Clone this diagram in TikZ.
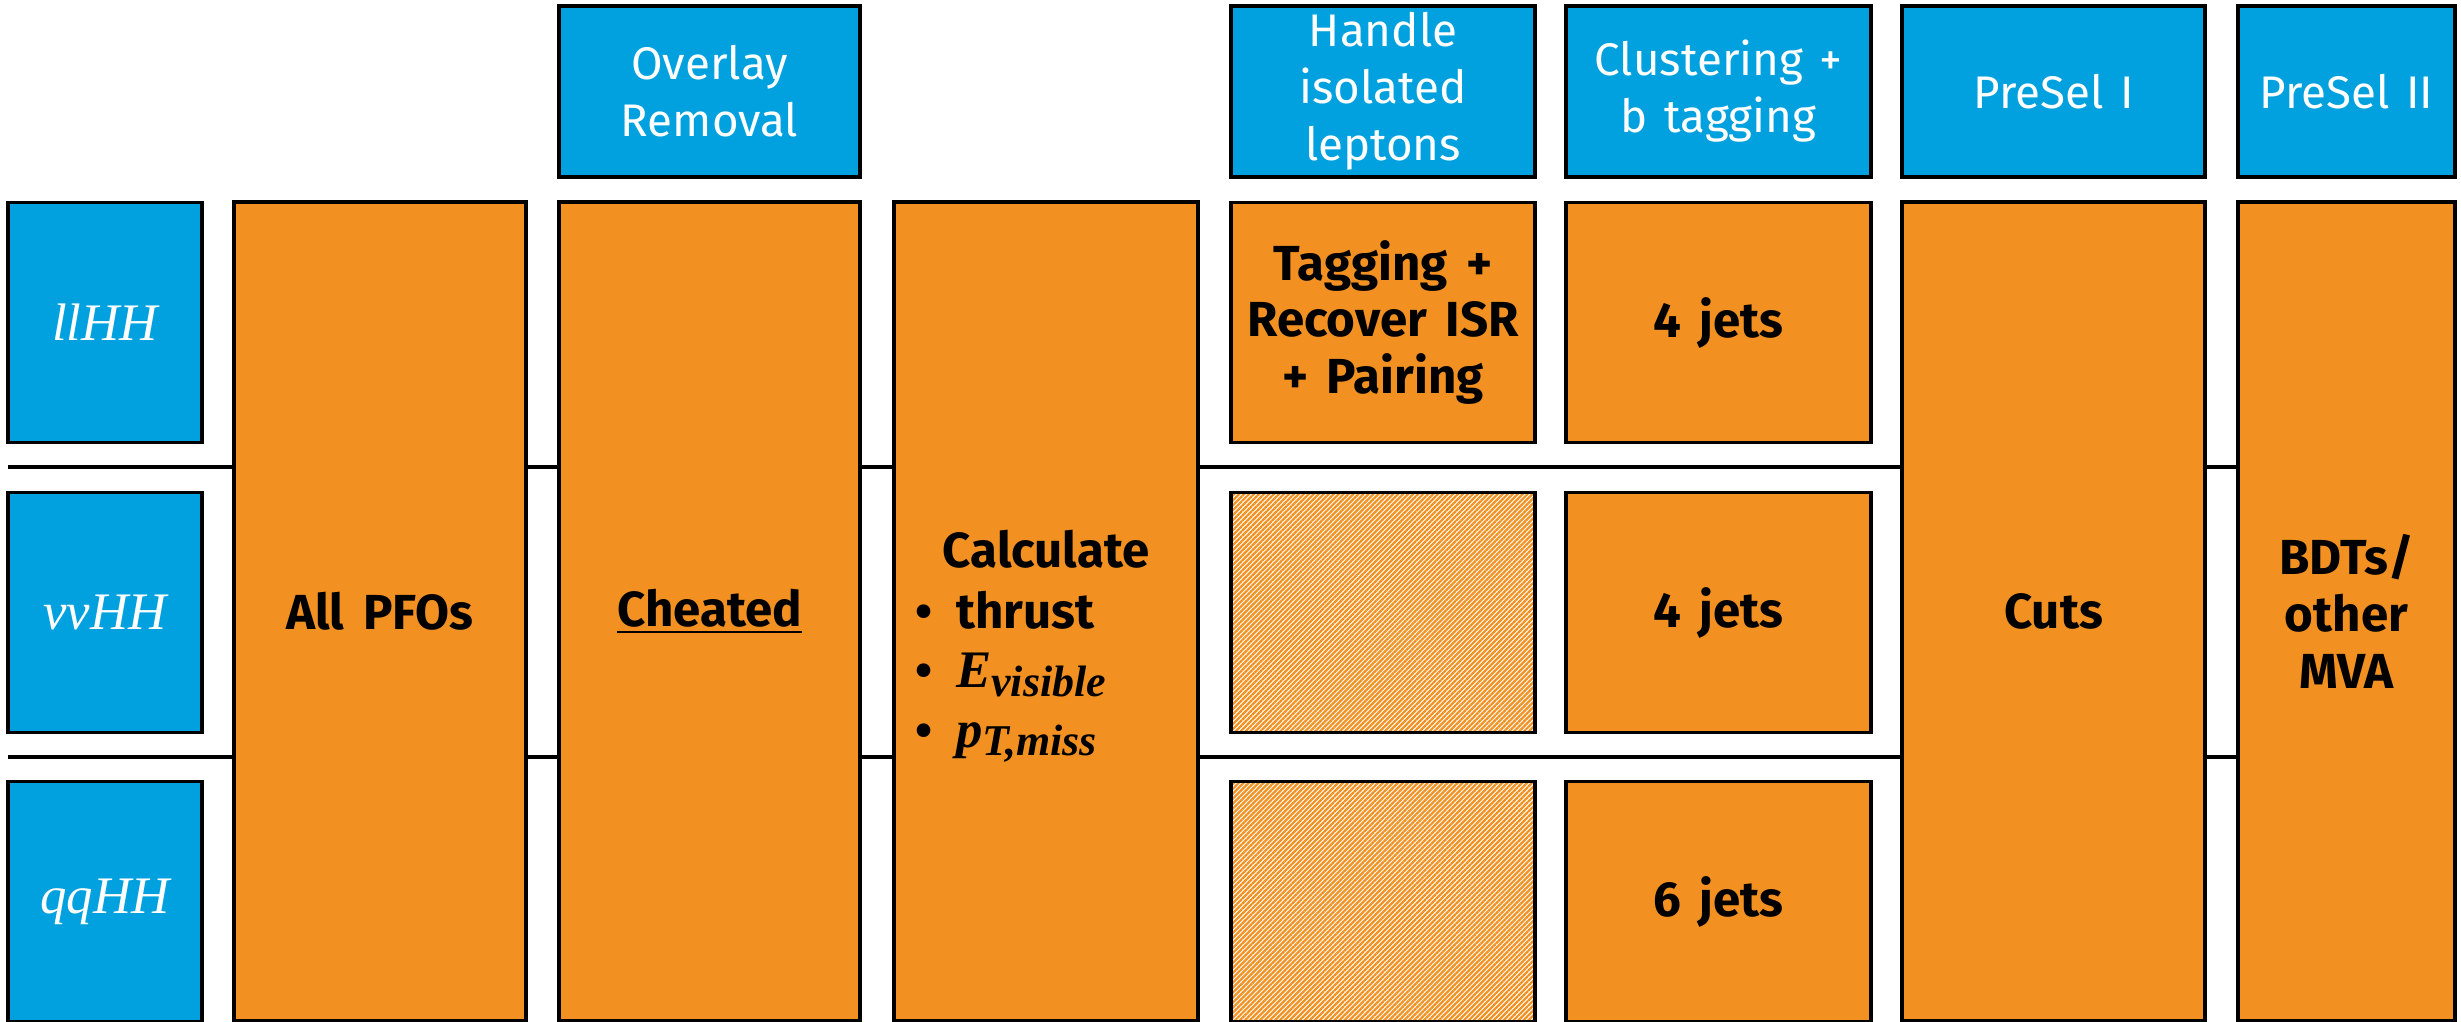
\documentclass[tikz,border=0pt]{standalone}
\usepackage{fontspec}
\setmainfont{Fira Sans}
\newfontfamily\cambria{Liberation Serif}
\usetikzlibrary{patterns.meta}

\definecolor{stepblue}{RGB}{0,161,222}
\definecolor{steporange}{RGB}{242,145,33}

% bold italic maths-like symbol with a lowered subscript
\newcommand{\bsym}[2]{{\cambria\bfseries\itshape\fontsize{15}{16}\selectfont #1\raisebox{-2.3pt}{\fontsize{12.5}{12}\selectfont #2}}}
\newcommand{\widespace}[1]{\spaceskip=#1\relax}

\def\colw{3.04cm}
\def\rowh{2.40cm}

\begin{document}
\begin{tikzpicture}[x=0.01cm,y=-0.01cm,line width=1.05pt]
    \tikzstyle{box}=[rectangle,draw=black,inner sep=0pt,align=center]
    \tikzstyle{header}=[box,fill=stepblue,text=white,minimum height=1.71cm,
        font=\fontsize{13}{16.2}\selectfont\widespace{0.36em}]
    \tikzstyle{channel}=[box,fill=stepblue,text=white,minimum width=1.94cm,
        minimum height=\rowh,font=\cambria\itshape\fontsize{15}{16}\selectfont]
    \tikzstyle{stage}=[box,fill=steporange,
        font=\bfseries\fontsize{14}{16.2}\selectfont\widespace{0.38em}]
    \tikzstyle{tall stage}=[stage,minimum height=8.19cm]
    \tikzstyle{cell}=[stage,minimum width=\colw,minimum height=\rowh]
    \tikzstyle{skipped}=[box,minimum width=\colw,minimum height=\rowh,
        pattern={Lines[angle=45,distance=1pt,line width=0.65pt]},pattern color=steporange]

    \useasboundingbox (0,0) rectangle (2461,1022);

    % Separators between the channels, drawn first so the boxes sit on top
    \coordinate (sepA-l) at (8,467);
    \coordinate (sepA-r) at (2455,467);
    \coordinate (sepB-l) at (8,757);
    \coordinate (sepB-r) at (2455,757);
    \draw (sepA-l) -- (sepA-r);
    \draw (sepB-l) -- (sepB-r);

    % Channels
    \foreach \name / \y / \lab in {ll/322.5/llHH, vv/612.5/vvHH, qq/901.5/qqHH}
        \node[channel] (\name) at (105,\y) {\lab};

    % Step headers
    \node[header,minimum width=3.01cm] (h-overlay) at (709.5,91.5) {Overlay\\Removal};
    \node[header,minimum width=\colw] (h-iso) at (1383,91.5) {Handle\\isolated\\leptons};
    \node[header,minimum width=3.05cm] (h-clust) at (1718.5,91.5) {Clustering +\\b tagging};
    \node[header,minimum width=3.03cm] (h-presel1) at (2053.5,91.5) {PreSel I};
    \node[header,minimum width=2.17cm] (h-presel2) at (2346.5,91.5) {PreSel II};

    % Steps common to all channels
    \node[tall stage,minimum width=2.92cm] (pfo) at (380,611.5) {All PFOs};
    \node[tall stage,minimum width=3.01cm] (cheat) at (709.5,611.5) {\underline{Cheated}};
    \node[tall stage,minimum width=\colw] (calc) at (1046,611.5) {};
    \node[stage,fill=none,draw=none,anchor=base] (calc-title) at (1046,568) {Calculate};
    \node[stage,fill=none,draw=none,align=left,anchor=north west,
        font=\bfseries\fontsize{14}{17}\selectfont] (calc-items) at (914,589)
        {\textbullet\ \ thrust\\
         \textbullet\ \ \bsym{E}{visible}\\
         \textbullet\ \ \bsym{p}{T,miss}};

    % Channel dependent steps
    \node[cell] (iso-ll) at (1383,322.5) {Tagging +\\Recover ISR\\+ Pairing};
    \node[skipped] (iso-vv) at (1383,612.5) {};
    \node[skipped] (iso-qq) at (1383,901.5) {};
    \foreach \name / \y / \lab in {ll/322.5/4, vv/612.5/4, qq/901.5/6}
        \node[cell,minimum width=3.05cm] (jets-\name) at (1718.5,\y) {\lab\ jets};

    % Selections
    \node[tall stage,minimum width=3.03cm] (cuts) at (2053.5,611.5) {Cuts};
    \node[tall stage,minimum width=2.17cm] (mva) at (2346.5,611.5) {BDTs/\\other\\MVA};
\end{tikzpicture}
\end{document}
